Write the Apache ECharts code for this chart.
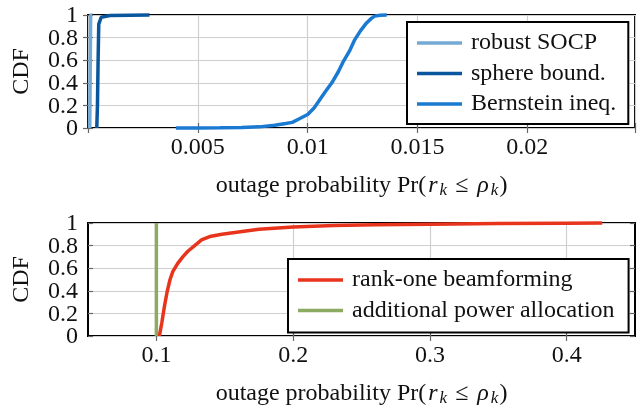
<!DOCTYPE html>
<html>
<head>
<meta charset="utf-8">
<script src="https://cdn.jsdelivr.net/npm/echarts@6/dist/echarts.min.js"></script>
<style>
  html, body { margin: 0; padding: 0; background: #fff; }
  #chart { width: 643px; height: 405px; }
</style>
</head>
<body>
<div id="chart"></div>
<script>
// top panel: CDF curves, [x, y]
var robustSocp = [[0.00008, 0], [0.0001, 0.5], [0.00012, 1], [0.0002, 1]];
var sphereBound = [[0.0004, 0], [0.00043, 0.2], [0.00046, 0.6], [0.00049, 0.92], [0.0006, 0.98], [0.001, 0.996], [0.0028, 1]];
var bernstein = [[0.004, 0], [0.005, 0.0005], [0.006, 0.002], [0.007, 0.005], [0.0078, 0.01], [0.0085, 0.025],
  [0.009, 0.04], [0.0093, 0.05], [0.0096, 0.08], [0.01, 0.12], [0.0103, 0.18], [0.01055, 0.25], [0.0108, 0.32],
  [0.0111, 0.4], [0.0114, 0.5], [0.0116, 0.58], [0.0119, 0.68], [0.01214, 0.78], [0.0124, 0.86], [0.01268, 0.93],
  [0.0129, 0.97], [0.01305, 0.99], [0.0133, 0.998], [0.0136, 1]];
// bottom panel
var rankOne = [[0.1022, 0], [0.104, 0.12], [0.106, 0.27], [0.108, 0.4], [0.11, 0.5], [0.112, 0.57], [0.1155, 0.64],
  [0.1193, 0.7], [0.123, 0.75], [0.128, 0.8], [0.133, 0.85], [0.139, 0.88], [0.148, 0.9], [0.16, 0.92], [0.175, 0.945],
  [0.2, 0.965], [0.23, 0.978], [0.26, 0.985], [0.3, 0.99], [0.35, 0.995], [0.4, 0.998], [0.426, 1]];
var powerAlloc = [[0.1, 0], [0.1, 1]];

var topTicks = [0.005, 0.01, 0.015, 0.02];
var bottomTicks = [0.1, 0.2, 0.3, 0.4];
var yTicks = [0, 0.2, 0.4, 0.6, 0.8, 1];
var names = ['robust SOCP', 'sphere bound.', 'Bernstein ineq.', 'rank-one beamforming', 'additional power allocation'];
var colors = ['#74aad4', '#0a569c', '#1a7ad2', '#e8341c', '#8cab62'];

var FONT = 'Liberation Serif';
var FS = 24;
var tickStyle = { show: true, inside: true, length: 5, lineStyle: { color: '#666', width: 1.2 } };
var gridLine = { show: true, lineStyle: { color: '#cfcfcf', width: 1.2 } };

var titleText = '{n|outage probability Pr(}{i|r}{s|k}{op|≤}{i|ρ}{s|k}{n|)}';
var titleRich = {
  n: { fontFamily: FONT, fontSize: FS, color: '#111' },
  i: { fontFamily: FONT, fontSize: FS, fontStyle: 'italic', color: '#111', padding: [0, 1, 0, 2] },
  s: { fontFamily: FONT, fontSize: 17, fontStyle: 'italic', color: '#111', padding: [10, 1, 0, 1] },
  op: { fontFamily: FONT, fontSize: FS, color: '#111', padding: [0, 7, 0, 7] }
};

// y tick labels are drawn as graphic text (v6 drops the 0.2/0.8 labels next to min/max)
function yAxisFor(gi) {
  return {
    type: 'value', gridIndex: gi, min: 0, max: 1, interval: 0.2,
    name: 'CDF', nameLocation: 'middle', nameGap: 54, nameMoveOverlap: false,
    nameTextStyle: { fontFamily: FONT, fontSize: FS, color: '#111' },
    axisLine: { show: false },
    axisTick: tickStyle,
    axisLabel: { show: false },
    splitLine: gridLine
  };
}
function yMirror(gi) {
  return { type: 'value', gridIndex: gi, min: 0, max: 1, interval: 0.2, position: 'right',
    axisLine: { show: false }, axisTick: tickStyle, axisLabel: { show: false }, splitLine: { show: false } };
}

var option = {
  backgroundColor: '#fff',
  animation: false,
  grid: [
    { left: 88, right: 8, top: 15, height: 113, show: true, borderColor: '#000', borderWidth: 2, outerBoundsMode: 'none' },
    { left: 88, right: 8, top: 223, height: 113, show: true, borderColor: '#000', borderWidth: 2, outerBoundsMode: 'none' }
  ],
  xAxis: [
    { type: 'value', gridIndex: 0, min: 0, max: 0.0249, interval: 0.005,
      name: titleText, nameLocation: 'middle', nameGap: 44, nameMoveOverlap: false,
      nameTextStyle: { rich: titleRich },
      axisLine: { show: false }, axisTick: tickStyle, splitLine: gridLine,
      axisLabel: { fontFamily: FONT, fontSize: FS, color: '#111', margin: 8,
        formatter: function (v) { return topTicks.indexOf(Math.round(v * 1000) / 1000) >= 0 ? String(Math.round(v * 1000) / 1000) : ''; } } },
    { type: 'value', gridIndex: 0, min: 0, max: 0.0249, interval: 0.005, position: 'top',
      axisLine: { show: false }, axisTick: tickStyle, axisLabel: { show: false }, splitLine: { show: false } },
    { type: 'value', gridIndex: 1, min: 0.05, max: 0.45,
      name: titleText, nameLocation: 'middle', nameGap: 44, nameMoveOverlap: false,
      nameTextStyle: { rich: titleRich },
      axisLine: { show: false },
      axisTick: Object.assign({ customValues: bottomTicks }, tickStyle),
      splitLine: Object.assign({ customValues: bottomTicks }, gridLine),
      axisLabel: { customValues: bottomTicks, fontFamily: FONT, fontSize: FS, color: '#111', margin: 8,
        formatter: function (v) { return String(Math.round(v * 10) / 10); } } },
    { type: 'value', gridIndex: 1, min: 0.05, max: 0.45, position: 'top',
      axisLine: { show: false }, axisTick: Object.assign({ customValues: bottomTicks }, tickStyle),
      axisLabel: { show: false }, splitLine: { show: false } }
  ],
  yAxis: [yAxisFor(0), yMirror(0), yAxisFor(1), yMirror(1)],
  legend: [
    { data: names.slice(0, 3), orient: 'vertical', left: 407, top: 22,
      padding: [9, 12, 8, 10], itemGap: 6.5, itemWidth: 45, itemHeight: 3.5, icon: 'rect',
      backgroundColor: '#fff', borderColor: '#000', borderWidth: 2, borderRadius: 0,
      textStyle: { fontFamily: FONT, fontSize: FS, color: '#111', lineHeight: 24, padding: [0, 0, 0, 4] } },
    { data: names.slice(3), orient: 'vertical', left: 288, top: 259,
      padding: [9, 14, 10, 10], itemGap: 6.5, itemWidth: 45, itemHeight: 3.5, icon: 'rect',
      backgroundColor: '#fff', borderColor: '#000', borderWidth: 2, borderRadius: 0,
      textStyle: { fontFamily: FONT, fontSize: FS, color: '#111', lineHeight: 24, padding: [0, 0, 0, 4] } }
  ],
  series: [
    { name: names[0], data: robustSocp, xAxisIndex: 0, yAxisIndex: 0 },
    { name: names[1], data: sphereBound, xAxisIndex: 0, yAxisIndex: 0 },
    { name: names[2], data: bernstein, xAxisIndex: 0, yAxisIndex: 0 },
    { name: names[3], data: rankOne, xAxisIndex: 2, yAxisIndex: 2 },
    { name: names[4], data: powerAlloc, xAxisIndex: 2, yAxisIndex: 2 }
  ].map(function (s, i) {
    return Object.assign({ type: 'line', showSymbol: false, symbol: 'none', clip: false, smooth: false,
      color: colors[i], lineStyle: { width: 3.5, color: colors[i] }, z: i === 4 ? 1 : 2 }, s);
  })
};

var chart = echarts.init(document.getElementById('chart'), null, { renderer: 'canvas' });
chart.setOption(option);

// y tick labels, placed through the axis scale
var labels = [];
[0, 2].forEach(function (yi) {
  yTicks.forEach(function (v) {
    var py = chart.convertToPixel({ yAxisIndex: yi }, v);
    labels.push({
      type: 'text', x: 78, y: py + 1, silent: true,
      style: { text: String(v), fontFamily: FONT, fontSize: FS, fill: '#111', align: 'right', verticalAlign: 'middle' }
    });
  });
});
chart.setOption({ graphic: labels });
</script>
</body>
</html>
